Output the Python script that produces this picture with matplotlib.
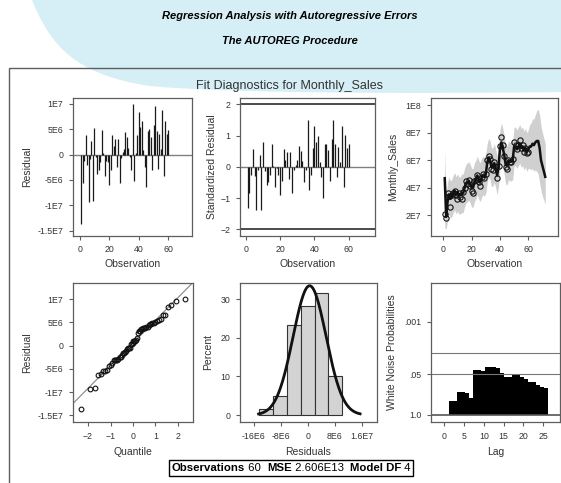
import numpy as np
import matplotlib
matplotlib.use("Agg")
import matplotlib.pyplot as plt
from matplotlib.patches import Rectangle, PathPatch
from matplotlib.path import Path
from matplotlib.offsetbox import TextArea, HPacker, AnchoredOffsetbox
from statistics import NormalDist

plt.rcParams['font.family'] = ['Liberation Sans', 'DejaVu Sans']

# ---- data ----
obs = np.arange(1, 61)
residual = np.array([
    -13.7, -5.5, -1.3, 3.9, -2.0, -9.3, -0.8, 2.7, -9.1, 5.3,
    -0.5, -3.8, -3.0, -1.5, 4.9, 0.3, -4.2, -1.2, -1.5, -6.0,
    -3.0, 3.8, 1.6, 3.1, -2.4, 3.1, -5.5, -0.6, 0.5, 1.0,
    4.5, 3.5, 1.2, -0.4, -3.0, 10.0, -5.2, 0.3, 3.9, 8.4,
    5.5, 6.5, 0.9, -2.5, -6.3, 4.7, 5.0, 3.5, -3.0, 5.8,
    9.6, 4.7, -2.8, 4.0, 1.0, 8.8, -4.3, 6.5, 4.0, 4.8]) * 1e6

std_residual = [
    -1.33, -0.85, -0.27, 0.58, -0.30, -1.38, -0.10, 0.37, -1.38, 0.80,
    -0.15, -0.58, -0.50, -0.27, 0.72, 0.02, -0.64, -0.05, -0.27, -0.90,
    -0.45, 0.58, 0.21, 0.46, -0.39, 0.46, -0.85, -0.10, 0.07, 0.21,
    0.67, 0.51, 0.20, -0.48, -0.10, 1.49, -0.75, -0.27, 0.60, 1.30,
    0.80, 0.99, 0.16, -0.34, -0.99, 0.72, 0.74, 0.53, -0.45, 0.88,
    1.49, 0.72, -0.32, 0.62, 0.16, 1.31, -0.65, 1.01, 0.60, 0.74]

sales = np.array([
    2.1, 1.8, 3.6, 3.4, 2.6, 3.5, 3.6, 3.8, 3.5, 3.2,
    3.6, 3.3, 3.2, 3.7, 4.0, 4.5, 4.3, 4.6, 4.1, 3.8,
    3.6, 4.5, 4.6, 4.9, 4.4, 4.1, 4.8, 5.0, 4.7, 5.0,
    6.0, 6.3, 6.1, 5.4, 5.3, 5.9, 5.5, 4.7, 5.6, 7.0,
    7.7, 7.1, 6.3, 5.5, 5.4, 6.0, 5.9, 5.9, 6.1, 7.3,
    7.1, 6.8, 7.1, 7.5, 6.9, 7.1, 6.6, 6.9, 6.5, 6.6]) * 1e7

obs_all = np.arange(1, 73)
predicted = np.array([
    4.7, 1.9, 3.0, 3.5, 3.2, 3.3, 3.6, 3.8, 3.5, 3.7,
    3.5, 3.5, 3.6, 3.6, 4.0, 4.3, 4.4, 4.5, 4.3, 4.0,
    4.0, 4.4, 4.6, 4.9, 4.6, 4.4, 4.7, 4.9, 4.8, 5.0,
    5.8, 6.2, 6.0, 5.5, 5.5, 5.8, 5.4, 4.9, 5.5, 6.8,
    7.3, 6.9, 6.4, 5.7, 5.6, 6.0, 5.9, 5.9, 6.0, 7.0,
    7.0, 6.8, 7.0, 7.2, 6.9, 7.0, 6.7, 6.9, 6.6, 6.8,
    7.0, 7.0, 7.2, 7.1, 7.3, 7.4, 7.4, 6.9, 6.0, 5.6, 5.2, 4.8]) * 1e7
upper = np.array([
    6.8, 3.5, 4.4, 4.8, 4.5, 4.6, 4.9, 5.1, 4.8, 5.0,
    4.8, 4.8, 5.0, 5.0, 5.4, 5.7, 5.8, 5.9, 5.7, 5.4,
    5.4, 5.8, 6.0, 6.3, 6.0, 5.8, 6.1, 6.3, 6.2, 6.5,
    7.2, 7.6, 7.4, 6.9, 6.9, 7.2, 6.8, 6.3, 6.9, 8.2,
    8.7, 8.3, 7.8, 7.1, 7.0, 7.4, 7.3, 7.3, 7.4, 8.4,
    8.4, 8.2, 8.4, 8.6, 8.3, 8.4, 8.1, 8.3, 8.0, 8.2,
    8.6, 8.7, 9.0, 9.0, 9.3, 9.6, 9.7, 9.3, 8.5, 8.0, 7.6, 7.2]) * 1e7
lower = np.array([
    1.1, 1.0, 1.6, 2.1, 1.8, 1.9, 2.2, 2.4, 2.1, 2.3,
    2.1, 2.1, 2.2, 2.2, 2.6, 2.9, 3.0, 3.1, 2.9, 2.6,
    2.6, 3.0, 3.2, 3.5, 3.2, 3.0, 3.3, 3.5, 3.4, 3.6,
    4.4, 4.8, 4.6, 4.1, 4.1, 4.4, 4.0, 3.5, 4.1, 5.4,
    5.9, 5.5, 5.0, 4.3, 4.2, 4.6, 4.5, 4.5, 4.6, 5.6,
    5.6, 5.4, 5.6, 5.8, 5.5, 5.6, 5.3, 5.5, 5.2, 5.4,
    5.4, 5.3, 5.4, 5.2, 5.3, 5.2, 5.0, 4.4, 3.8, 3.4, 3.1, 2.8]) * 1e7

lags = np.arange(1, 26)
wn_prob = [0.36, 0.36, 0.18, 0.18, 0.20, 0.28, 0.036, 0.036, 0.038, 0.030,
           0.030, 0.030, 0.032, 0.046, 0.062, 0.062, 0.051, 0.051, 0.063, 0.072,
           0.089, 0.089, 0.11, 0.13, 0.14]

res_ticks = [-1.5e7, -1e7, -5e6, 0, 5e6, 1e7]
res_labels = ['-1.5E7', '-1E7', '-5E6', '0', '5E6', '1E7']

# ---- layout in pixels ----
W, H = 561, 483
TXT = '#333333'
FRAME = '#5e5e5e'
fig = plt.figure(figsize=(W / 100, H / 100), dpi=100)


def fx(x):
    return x / W


def fy(y):
    return 1 - y / H


def add_ax(x0, y0, x1, y1):
    ax = fig.add_axes([fx(x0), fy(y1), (x1 - x0) / W, (y1 - y0) / H])
    for s in ax.spines.values():
        s.set_color(FRAME)
        s.set_linewidth(0.9)
    ax.tick_params(direction='out', length=3, width=0.8, color=FRAME,
                   labelsize=6.3, labelcolor=TXT, pad=4,
                   top=False, right=False)
    return ax


def labels(ax, xl, yl, xpx, ypx, xlab_y, ylab_x):
    ax.set_xlabel(xl, fontsize=7.5, color=TXT)
    ax.set_ylabel(yl, fontsize=7.5, color=TXT)
    ax.xaxis.set_label_coords(fx(xpx), fy(xlab_y), transform=fig.transFigure)
    ax.yaxis.set_label_coords(fx(ylab_x), fy(ypx), transform=fig.transFigure)
    ax.xaxis.label.set_va('center')
    ax.yaxis.label.set_va('center')


# background swoosh
verts = [(32, 0), (50, 45), (75, 75), (150, 86), (220, 93), (400, 94), (570, 92),
         (570, 0), (32, 0)]
codes = [Path.MOVETO, Path.CURVE4, Path.CURVE4, Path.CURVE4,
         Path.CURVE4, Path.CURVE4, Path.CURVE4, Path.LINETO, Path.CLOSEPOLY]
verts = [(fx(x), fy(y)) for x, y in verts]
fig.add_artist(PathPatch(Path(verts, codes), facecolor='#d6eef5', edgecolor='none',
                         transform=fig.transFigure, zorder=0))
fig.add_artist(Rectangle((fx(9), fy(600)), (600 - 9) / W, (600 - 68) / H, fill=False,
                         edgecolor=FRAME, lw=1, transform=fig.transFigure, zorder=1))

fig.text(fx(289.5), fy(16), 'Regression Analysis with Autoregressive Errors',
         ha='center', va='center', fontsize=8, fontweight='bold', style='italic')
fig.text(fx(289.5), fy(41), 'The AUTOREG Procedure',
         ha='center', va='center', fontsize=8, fontweight='bold', style='italic')
fig.text(fx(289.5), fy(86), 'Fit Diagnostics for Monthly_Sales',
         ha='center', va='center', fontsize=9, color=TXT)

# 1. residual needles
ax1 = add_ax(73, 98, 192, 235.5)
ax1.axhline(0, color='#808080', lw=1)
ax1.vlines(obs, 0, residual, color='#1a1a1a', lw=0.9)
ax1.set_xlim(-4.5, 76)
ax1.set_ylim(-1.59e7, 1.11e7)
ax1.set_xticks([0, 20, 40, 60])
ax1.set_yticks(res_ticks, res_labels)
labels(ax1, 'Observation', 'Residual', 132.5, 166.7, 264, 27)

# 2. standardized residual
ax2 = add_ax(240, 98, 375, 235.5)
ax2.axhline(0, color='#808080', lw=1)
ax2.axhline(2, color='#1a1a1a', lw=1.1)
ax2.axhline(-2, color='#1a1a1a', lw=1.1)
ax2.vlines(obs, 0, std_residual, color='#1a1a1a', lw=0.9)
ax2.set_xlim(-3.5, 75.4)
ax2.set_ylim(-2.2, 2.2)
ax2.set_xticks([0, 20, 40, 60])
ax2.set_yticks([-2, -1, 0, 1, 2])
labels(ax2, 'Observation', 'Standardized Residual', 307.5, 166.7, 264, 212)

# 3. fit with confidence band
ax3 = add_ax(431, 98, 558, 235.5)
ax3.fill_between(obs_all, lower, upper, color='#d0d0d0', lw=0)
ax3.plot(obs_all, predicted, color='#111111', lw=1.8)
ax3.plot(obs, sales, 'o', mfc='none', mec='#111111', ms=3.8, mew=0.8)
ax3.set_xlim(-8.7, 81)
ax3.set_ylim(5.4e6, 1.052e8)
ax3.set_xticks([0, 20, 40, 60])
ax3.set_yticks([2e7, 4e7, 6e7, 8e7, 1e8], ['2E7', '4E7', '6E7', '8E7', '1E8'])
labels(ax3, 'Observation', 'Monthly_Sales', 494.5, 166.7, 264, 393)

# 4. QQ plot
n = len(residual)
mu, sd = residual.mean(), residual.std(ddof=1)
quant = [NormalDist().inv_cdf((i - 0.375) / (n + 0.25)) for i in range(1, n + 1)]
ax4 = add_ax(73, 283, 193, 422)
ax4.axline((0, mu), slope=sd, color='#909090', lw=0.9)
ax4.plot(quant, np.sort(residual), 'o', mfc='none', mec='#111111', ms=3.4, mew=0.8)
ax4.set_xlim(-2.67, 2.67)
ax4.set_ylim(-1.645e7, 1.35e7)
ax4.set_xticks([-2, -1, 0, 1, 2])
ax4.set_yticks(res_ticks, res_labels)
labels(ax4, 'Quantile', 'Residual', 133, 352.5, 451.7, 27)

# 5. histogram with normal curve
binw = 4.1e6
edges = np.arange(-3.5, 3.0, 1.0) * binw
ax5 = add_ax(240, 283, 377, 422)
ax5.hist(residual, bins=edges, weights=np.full(n, 100 / n),
         facecolor='#d3d3d3', edgecolor='#333333', lw=0.8)
xs = np.linspace(-1.45e7, 1.55e7, 200)
ax5.plot(xs, 100 * binw * np.exp(-0.5 * ((xs - mu) / sd) ** 2) / (sd * np.sqrt(2 * np.pi)),
         color='#111111', lw=2)
ax5.set_xlim(-2e7, 2.05e7)
ax5.set_ylim(-1.8, 34.2)
ax5.set_xticks([-1.6e7, -8e6, 0, 8e6, 1.6e7], ['-16E6', '-8E6', '0', '8E6', '1.6E7'])
ax5.set_yticks([0, 10, 20, 30])
labels(ax5, 'Residuals', 'Percent', 308.5, 352.5, 451.7, 208)

# 6. white noise probabilities
ax6 = add_ax(431, 283, 560, 422)
ax6.set_yscale('log')
ax6.bar(lags + 0.2, np.array(wn_prob) - 1, bottom=1, width=1.0, align='edge',
        color='black', lw=0)
ax6.axhline(0.01, color='#777777', lw=0.8)
ax6.axhline(0.05, color='#777777', lw=0.8)
ax6.axhline(1.0, color='#555555', lw=1.2)
ax6.set_ylim(10 ** 0.235, 10 ** -4.24)
ax6.set_yticks([1, 0.05, 0.001], ['1.0', '.05', '.001'])
ax6.minorticks_off()
ax6.set_xlim(-3.4, 29.3)
ax6.set_xticks([0, 5, 10, 15, 20, 25])
labels(ax6, 'Lag', 'White Noise Probabilities', 495.5, 352.5, 451.7, 392)

# footer
parts = [('Observations', 'bold'), (' 60  ', 'normal'), ('MSE', 'bold'),
         (' 2.606E13  ', 'normal'), ('Model DF', 'bold'), (' 4', 'normal')]
boxes = [TextArea(t, textprops=dict(fontsize=8.2, fontweight=w, color='black'))
         for t, w in parts]
pack = HPacker(children=boxes, align='baseline', pad=0, sep=0)
foot = AnchoredOffsetbox(loc='center', child=pack, pad=0.2, borderpad=0, frameon=True,
                         bbox_to_anchor=(fx(291), fy(468)), bbox_transform=fig.transFigure)
foot.patch.set_edgecolor('black')
foot.patch.set_linewidth(1)
fig.add_artist(foot)

fig.savefig('out.png', dpi=100)
